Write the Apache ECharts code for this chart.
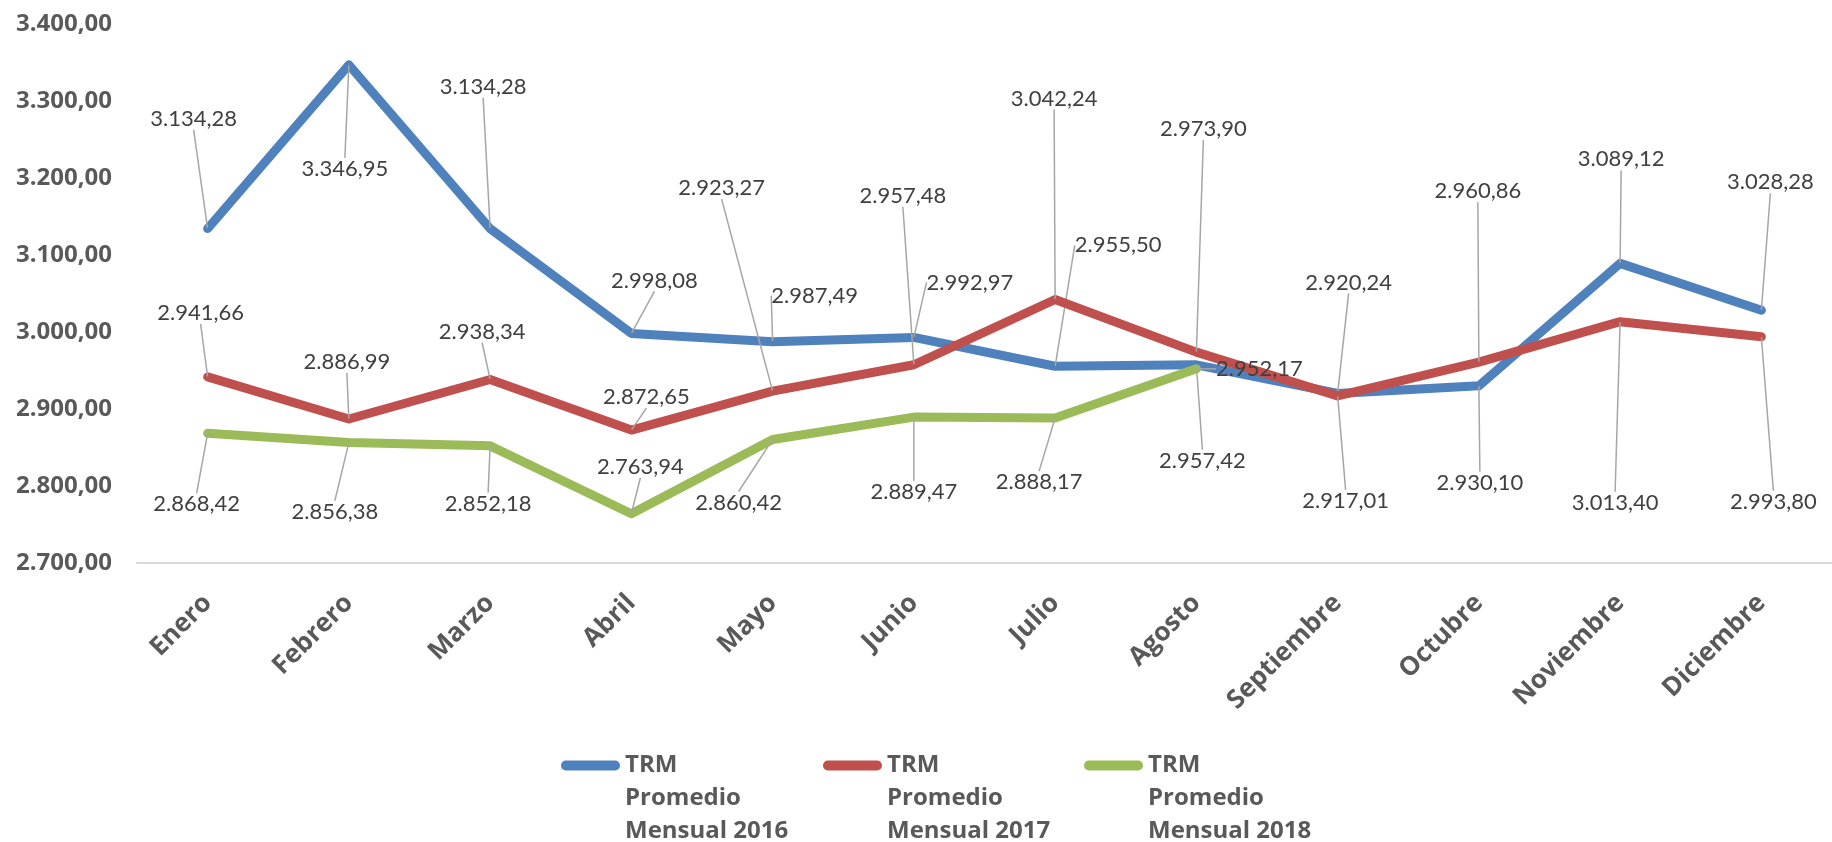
<!DOCTYPE html>
<html>
<head>
<meta charset="utf-8">
<script src="https://cdn.jsdelivr.net/npm/echarts@6/dist/echarts.min.js"></script>
<style>html,body{margin:0;padding:0;background:#fff}#c{width:1832px;height:842px}</style>
</head>
<body>
<div id="c"></div>
<script>
// ---- data ----
const categories = ['Enero', 'Febrero', 'Marzo', 'Abril', 'Mayo', 'Junio', 'Julio', 'Agosto', 'Septiembre', 'Octubre', 'Noviembre', 'Diciembre'];
const seriesNames = ['TRM Promedio Mensual 2016', 'TRM Promedio Mensual 2017', 'TRM Promedio Mensual 2018'];
const trm2016 = [3134.28, 3346.95, 3134.28, 2998.08, 2987.49, 2992.97, 2955.50, 2957.42, 2920.24, 2930.10, 3089.12, 3028.28];
const trm2017 = [2941.66, 2886.99, 2938.34, 2872.65, 2923.27, 2957.48, 3042.24, 2973.90, 2917.01, 2960.86, 3013.40, 2993.80];
const trm2018 = [2868.42, 2856.38, 2852.18, 2763.94, 2860.42, 2889.47, 2888.17, 2952.17];
const yMin = 2700, yMax = 3400, yStep = 100;

// ---- styling (label offsets from each point, in px) ----
const colors = ['#4F81BD', '#C0504D', '#9BBB59'];
const labelOffsets = [
  [[-14,-110],[-4,104],[-7,-142],[23,-53],[42,-46],[56,-55],[63,-121],[6,96],[11,-111],[1,97],[1,-104],[9,-128]],
  [[-7,-64],[-2,-57],[-8,-48],[15,-33],[-51,-203],[-11,-169],[-1,-201],[7,-223],[8,105],[-1,-171],[-5,181],[12,165]],
  [[-11,71],[-14,69],[-2,58],[9,-47],[-34,63],[0,75],[-16,64],[63,0]]
];
const legendLeft = [561, 823, 1084];

function fmt(v) {
  const parts = Number(v).toFixed(2).split('.');
  const intPart = parts[0].replace(/\B(?=(\d{3})+(?!\d))/g, '.');
  return intPart + ',' + parts[1];
}

const chart = echarts.init(document.getElementById('c'), null, {renderer: 'canvas'});
const dataSets = [trm2016, trm2017, trm2018];

const series = dataSets.map((d, si) => ({
  name: seriesNames[si],
  type: 'line',
  data: d,
  symbol: 'circle',
  symbolSize: 1,
  showSymbol: true,
  showAllSymbol: true,
  itemStyle: {color: colors[si]},
  lineStyle: {color: colors[si], width: 9, cap: 'round', join: 'round'},
  emphasis: {disabled: true},
  z: 2 + si,
  label: {
    show: true,
    position: 'inside',
    formatter: p => fmt(p.value),
    fontFamily: 'Lato',
    fontSize: 22,
    color: '#404040'
  },
  labelLine: {
    show: true,
    showAbove: true,
    lineStyle: {color: '#A6A6A6', width: 1.5}
  },
  labelLayout: function (params) {
    const o = labelOffsets[si][params.dataIndex];
    return {dx: o[0], dy: o[1]};
  }
}));

const legendIcon = 'path://M5,0 L55,0 A5,5 0 0 1 55,10 L5,10 A5,5 0 0 1 5,0 Z';
const legends = seriesNames.map((n, i) => ({
  data: [n],
  left: legendLeft[i],
  top: 683,
  orient: 'horizontal',
  padding: 0,
  icon: legendIcon,
  itemWidth: 59,
  itemHeight: 10,
  selectedMode: false,
  // two blank lines first so the first text line ("TRM") sits level with the icon
  formatter: name => '\n\n' + name.replace('TRM ', 'TRM\n').replace(' Mensual', '\nMensual'),
  textStyle: {
    fontFamily: 'Open Sans',
    fontWeight: 'bold',
    fontSize: 24,
    color: '#595959',
    lineHeight: 33
  }
}));

chart.setOption({
  animation: false,
  backgroundColor: '#fff',
  color: colors,
  grid: {left: 137, right: -8, top: 24, bottom: 279, containLabel: false},
  legend: legends,
  xAxis: {
    type: 'category',
    data: categories,
    boundaryGap: true,
    axisLine: {show: true, lineStyle: {color: '#D9D9D9', width: 2}},
    axisTick: {show: false},
    splitLine: {show: false},
    axisLabel: {
      interval: 0,
      rotate: 45,
      margin: 36,
      fontFamily: 'Open Sans',
      fontWeight: 'bold',
      fontSize: 26,
      color: '#595959'
    }
  },
  yAxis: {
    type: 'value',
    min: yMin,
    max: yMax,
    interval: yStep,
    axisLine: {show: false},
    axisTick: {show: false},
    splitLine: {show: false},
    axisLabel: {
      formatter: v => fmt(v),
      margin: 25,
      fontFamily: 'Open Sans',
      fontWeight: 'bold',
      fontSize: 24,
      color: '#595959'
    }
  },
  series: series
});
</script>
</body>
</html>
